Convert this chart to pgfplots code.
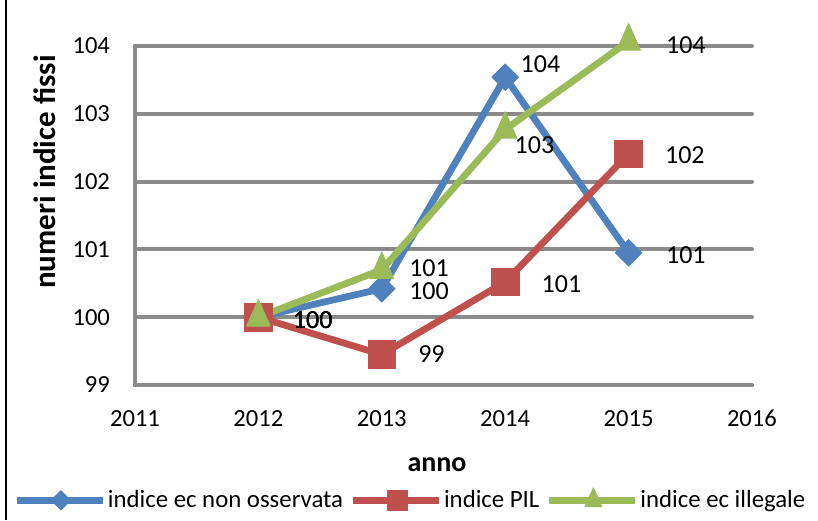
\documentclass[border=0pt]{standalone}
\usepackage{fontspec}
\setmainfont{Carlito}
\usepackage{pgfplots}
\usepackage{pgfplotstable}
\pgfplotsset{compat=1.18}
\definecolor{xlblue}{HTML}{4F81BD}
\definecolor{xlred}{HTML}{C0504D}
\definecolor{xlgreen}{HTML}{9BBB59}
\definecolor{gridgray}{HTML}{8A8A8A}

\pgfplotstableread{
x y dx dy lab
2012 100.00 17 -1.5 100
2013 100.42 13.5 -1 100
2014 103.54 7.5 6.5 104
2015 100.95 18.5 -1 101
}\tblue
\pgfplotstableread{
x y dx dy lab
2012 100.00 17 -1.5 100
2013 99.45 18 0 99
2014 100.52 18 -1 101
2015 102.41 18 -0.5 102
}\tred
\pgfplotstableread{
x y dx dy lab
2012 100.00 17 -1.5 100
2013 100.70 13.5 1 101
2014 102.77 4.5 -8 103
2015 104.07 18.5 -2 104
}\tgreen

\newcommand{\tickfont}{\fontsize{12.3}{14}\selectfont}
\newcommand{\lblfont}{\fontsize{13}{15}\selectfont}
\newcommand{\legfont}{\fontsize{12.4}{15}\selectfont}

\begin{document}
\begin{tikzpicture}
\useasboundingbox (0,0) rectangle (409pt,260pt);
\draw[line width=1pt] (3pt,0) -- (3pt,260pt);
\begin{axis}[
  scale only axis,
  width=308.5pt, height=169.5pt,
  at={(67.5pt,67.5pt)}, anchor=south west,
  xmin=2011, xmax=2016, ymin=99, ymax=104,
  xtick={2011,2012,...,2016}, ytick={99,100,...,104},
  axis x line*=bottom, axis y line*=left,
  axis line style={gridgray, line width=2pt, -},
  ymajorgrids, grid style={gridgray, line width=2pt},
  major tick length=0pt,
  /pgf/number format/1000 sep={},
  /pgf/number format/assume math mode=true,
  tick label style={font=\tickfont, text=black},
  xticklabel style={yshift=-9pt},
  yticklabel style={xshift=-9pt},
  clip=false,
  line cap=round, line join=round,
  legend columns=3,
  legend style={at={(-0.1975,-0.339)}, anchor=west, draw=none, fill=none,
    inner sep=0pt, font=\legfont, nodes={inner sep=0.8pt},
    /tikz/every even column/.append style={column sep=2.5pt}},
  legend cell align=left,
  legend image code/.code={\draw[mark repeat=2,mark phase=2,#1] plot coordinates {(0pt,0pt) (22pt,0pt) (43pt,0pt)};},
  nodes near coords={\pgfplotspointmeta},
  point meta=explicit symbolic,
  visualization depends on={\thisrow{dx} \as \dx},
  visualization depends on={\thisrow{dy} \as \dy},
  every node near coord/.append style={anchor=west, xshift=\dx pt, yshift=\dy pt, font=\lblfont, text=black, inner sep=0pt},
]
\addplot[xlblue, line width=3.4pt, mark=diamond*, mark size=6.6pt,
  mark options={solid, xscale=1.333, line width=0.5pt, fill=xlblue},
  legend image post style={mark size=4.8pt}]
  table[x=x, y=y, meta=lab] {\tblue};
\addlegendentry{indice ec non osservata}
\addplot[xlred, line width=3.4pt, mark=square*, mark size=6.9pt,
  mark options={solid, line width=0.5pt, fill=xlred},
  legend image post style={mark size=5pt}]
  table[x=x, y=y, meta=lab] {\tred};
\addlegendentry{indice PIL}
\addplot[xlgreen, line width=3.4pt, mark=triangle*, mark size=6.8pt,
  mark options={solid, yscale=1.3, line width=0.5pt, fill=xlgreen},
  legend image post style={mark size=4.8pt}]
  table[x=x, y=y, meta=lab] {\tgreen};
\addlegendentry{indice ec illegale}
\end{axis}
\node[rotate=90, font=\fontsize{15.5}{17}\bfseries\selectfont] at (22.5pt,174pt) {numeri indice fissi};
\node[font=\fontsize{14}{16}\bfseries\selectfont] at (218.5pt,27.5pt) {anno};
\end{tikzpicture}
\end{document}
